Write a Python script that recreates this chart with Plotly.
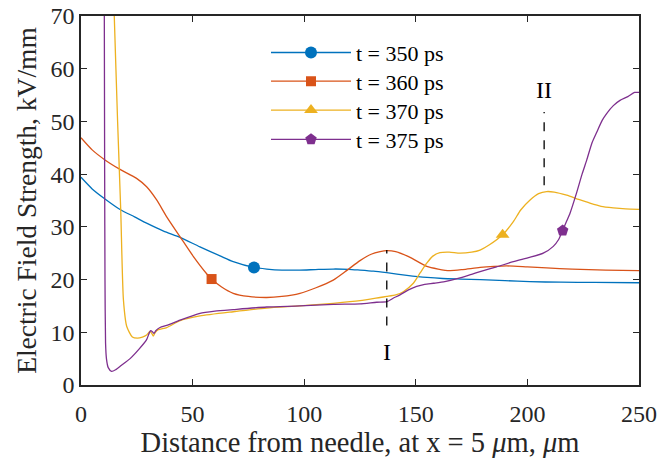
import plotly.graph_objects as go

# ---------------- data ----------------
x350 = [0, 5, 10.75, 17.5, 24, 29.4, 37, 44.4, 53.3, 62.3, 68.2, 77.5, 83.2, 90, 98, 105, 113, 120, 125, 131, 137,
        146, 155, 162, 170, 179, 190, 201, 215, 230, 250]
y350 = [39.4, 37.2, 35.3, 33.3, 31.9, 30.7, 29.2, 28.0, 26.2, 24.5, 23.4, 22.3, 22.0, 21.8, 21.8, 21.9, 22.0, 21.95,
        21.8, 21.6, 21.3, 20.8, 20.4, 20.2, 20.1, 20.0, 19.8, 19.6, 19.5, 19.45, 19.4]

x360 = [0, 5, 10.75, 17.5, 24.9, 29.4, 33.9, 38.4, 44.4, 50.3, 56.3, 58.5, 63, 68.2, 75, 83.2, 90, 98.1, 105, 113, 119,
        125, 130, 134, 137, 141, 147, 154.9, 160, 165.3, 171, 178.8, 185, 190.7, 200, 208.6, 220, 235, 250]
y360 = [46.9, 44.6, 42.7, 40.9, 39.2, 37.6, 35.1, 31.9, 28.1, 24.4, 21.1, 20.1, 18.6, 17.4, 16.8, 16.6, 16.8,
        17.4, 18.4, 19.9, 21.7, 23.6, 24.8, 25.3, 25.5, 25.3, 24.3, 22.5, 22.0, 21.7, 21.9, 22.3, 22.5, 22.6, 22.4,
        22.2, 22.0, 21.8, 21.7]

x370 = [14.1, 14.9, 16.4, 17.8, 19.0, 20.5, 23.0, 25.3, 27.5, 29.4, 30.9, 31.7, 32.4, 33.3, 34.6, 38.4, 44.4, 53.3,
        68.2, 83.2, 98, 113, 125, 134, 137, 141, 144.4, 148.9, 152, 154.9, 157.5, 160.8, 165, 169.8, 175, 178.8, 183,
        188.9, 193.7, 197, 201.2, 205, 208.6, 212, 217.6, 223, 228, 233, 238.5, 244, 250]
y370 = [80, 70, 50, 33.2, 16.2, 11.1, 9.1, 8.9, 9.1, 9.5, 10.15, 9.8, 9.3, 10.0, 10.5, 10.9, 12.2, 13.1,
        13.9, 14.6, 15.0, 15.5, 16.0, 16.6, 16.8, 17.1, 17.7, 19.3, 21.3, 23.1, 24.4, 25.1, 25.2, 25.0, 25.2, 25.6, 26.6,
        28.5, 31.0, 33.2, 35.1, 36.3, 36.7, 36.6, 36.0, 35.2, 34.5, 33.9, 33.6, 33.4, 33.3]

x375 = [10.3, 10.45, 10.6, 10.75, 11.0, 11.4, 12.2, 13.7, 15.5, 18, 22, 26, 29.4, 30.5, 31.2, 32.0, 32.7, 33.5, 35.4,
        38.4, 44.4, 53.3, 60, 68.2, 83.2, 98, 113, 125, 132.5, 137, 140, 142.9, 146.5, 150.4, 154, 157.9, 163, 169.8,
        175, 178.8, 186.2, 193.7, 201, 207.1, 211.6, 214, 215.8, 217.5, 219.1, 222, 224.5, 226.6, 229, 231, 233.5,
        235.5, 238.5, 241.5, 245, 248, 250]
y375 = [85, 70, 40, 20, 8, 5.0, 3.3, 2.6, 2.9, 3.7, 5.0, 6.8, 8.6, 9.8, 10.3, 10.1, 9.8, 10.3, 10.9,
        11.3, 12.3, 13.6, 14.0, 14.3, 14.8, 15.0, 15.3, 15.4, 15.7, 15.8, 16.5, 17.1, 18.0, 18.7, 19.1, 19.3, 19.6, 20.3,
        21.0, 21.5, 22.4, 23.4, 24.2, 25.0, 26.3, 27.6, 29.3, 31.0, 32.6, 36.4, 40.0, 42.7, 46.0, 47.9, 50.2,
        51.5, 53.0, 54.0, 54.7, 55.5, 55.5]

names = ["t = 350 ps", "t = 360 ps", "t = 370 ps", "t = 375 ps"]
marker_x = [77.5, 58.5, 188.9, 215.8]   # where each series carries its marker
symbols = ["circle", "square", "triangle-up", "pentagon"]
colors = ["#0072BD", "#D95319", "#EDB120", "#7E2F8E"]

xticks = [0, 50, 100, 150, 200, 250]
yticks = [0, 10, 20, 30, 40, 50, 60, 70]

ann_x = [137, 207.5]
ann_labels = ["I", "II"]
ann_line = [(11.3, 25.6), (37.9, 51.8)]
ann_text_y = [6.2, 55.9]

FONT = "Liberation Serif, Times New Roman, serif"

W, H = 671, 460
ML, MR, MT, MB = 81, 32, 15.5, 74.7
plot_h = H - MT - MB

series = [(x350, y350), (x360, y360), (x370, y370), (x375, y375)]
legend_ids = ["legend", "legend2", "legend3", "legend4"]
fig = go.Figure()
for (xs, ys), nm, mx, sym, col, lid in zip(series, names, marker_x, symbols, colors, legend_ids):
    msize = 12 if sym != "square" else 10
    fig.add_trace(go.Scatter(x=xs, y=ys, mode="lines", line=dict(color=col, width=1.3, shape="spline", smoothing=0.6),
                             showlegend=False, hoverinfo="skip"))
    i = xs.index(mx)
    fig.add_trace(go.Scatter(x=[xs[i]], y=[ys[i]], mode="markers",
                             marker=dict(symbol=sym, color=col, size=msize), showlegend=False))
    fig.add_trace(go.Scatter(x=[None], y=[None], mode="lines+markers", name=nm, legend=lid,
                             line=dict(color=col, width=1.3), marker=dict(symbol=sym, color=col, size=msize)))

for xa, lab, (y0, y1), ty in zip(ann_x, ann_labels, ann_line, ann_text_y):
    fig.add_shape(type="line", x0=xa, x1=xa, y0=y0, y1=y1, line=dict(color="black", width=1.3, dash="dash"))
    fig.add_annotation(x=xa, y=ty, text=lab, showarrow=False, font=dict(family=FONT, size=24, color="black"))

axis_common = dict(showline=True, linecolor="#262626", linewidth=1.5, mirror="ticks", ticks="inside",
                   ticklen=6, tickwidth=1.2, tickcolor="#262626", showgrid=False, zeroline=False, automargin=False,
                   ticklabeloverflow="allow", tickfont=dict(family=FONT, size=24, color="#262626"))
fig.update_xaxes(range=[0, 250], tickvals=xticks, ticklabelstandoff=6,
                 title=dict(text="Distance from needle, at x = 5 <i>μ</i>m, <i>μ</i>m",
                            font=dict(family=FONT, size=28.5, color="#262626"), standoff=6),
                 **axis_common)
fig.update_yaxes(range=[0, 70], tickvals=yticks,
                 title=dict(text="Electric Field Strength, kV/mm",
                            font=dict(family=FONT, size=27.5, color="#262626"), standoff=6),
                 **axis_common)

# legend rows (one legend per row for exact MATLAB-like spacing); row centres in px
row_centers_px = [52.3, 81, 110, 139.3]
leg_layout = {}
for lid, yc in zip(legend_ids, row_centers_px):
    leg_layout[lid] = dict(x=(271 - 5 - ML) / (W - ML - MR), y=1 - (yc - MT) / plot_h,
                           xanchor="left", yanchor="middle",
                           bgcolor="rgba(0,0,0,0)", font=dict(family=FONT, size=22, color="black"), itemwidth=80)

fig.update_layout(width=W, height=H, margin=dict(l=ML, r=MR, t=MT, b=MB, autoexpand=False),
                  plot_bgcolor="white", paper_bgcolor="white", **leg_layout)
fig.write_html("out.html", config={"displayModeBar": False},
               post_script="document.body.style.margin='0';document.body.style.overflow='hidden';")
